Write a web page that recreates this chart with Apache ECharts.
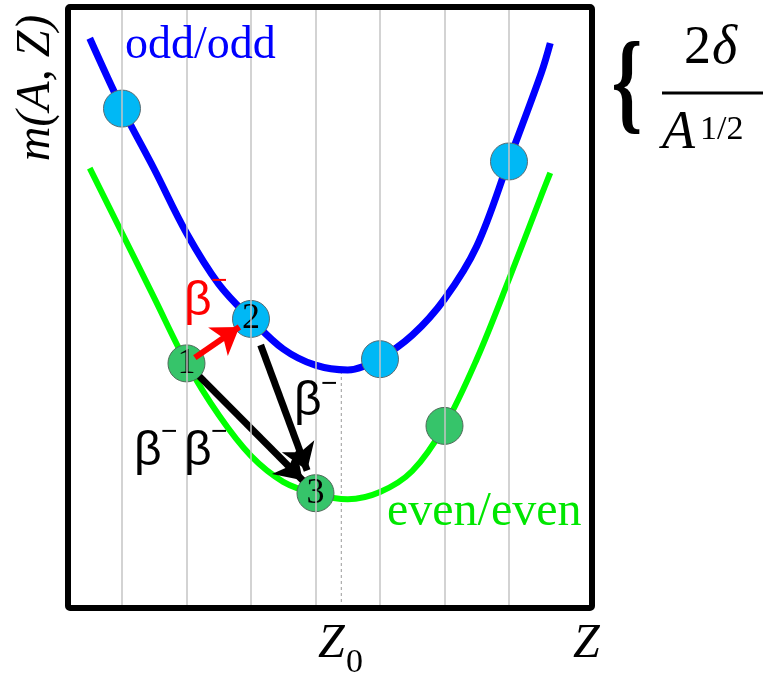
<!DOCTYPE html>
<html>
<head>
<meta charset="utf-8">
<script src="https://cdn.jsdelivr.net/npm/echarts@6/dist/echarts.min.js"></script>
<style>
  html, body { margin: 0; padding: 0; background: #fff; }
  #massChart { width: 765px; height: 677px; }
</style>
</head>
<body>
<div id="massChart"></div>
<script>
// curve samples (Z, mass in arbitrary units)
const curveZ = [0.5, 1, 1.5, 2, 2.5, 3, 3.5, 4, 4.5, 5, 5.5, 6, 6.5, 7, 7.5, 7.64];
const oddCurveM = [94.8, 83.2, 73.0, 62.4, 53.9, 48.1, 43.1, 40.4, 39.6, 41.6, 45.4, 51.4, 60.2, 74.5, 89.0, 94.0];
const evenCurveM = [73.2, 62.4, 51.6, 40.8, 32.1, 25.3, 21.0, 19.0, 18.1, 19.3, 22.8, 30.3, 41.4, 54.7, 68.6, 72.4];

// nuclides sitting on the curves
const oddZ = [1, 3, 5, 7];
const oddM = [83.1, 48.1, 41.4, 74.3];
const oddTags = ["", "2", "", ""];
const evenZ = [2, 4, 6];
const evenM = [40.7, 19.1, 30.3];
const evenTags = ["1", "3", ""];

const gridZ = [1, 2, 3, 4, 5, 6, 7];
const z0 = 4.4;
const z0Mass = 39.6;

const n1 = [evenZ[0], evenM[0]];
const n2 = [oddZ[1], oddM[1]];
const n3 = [evenZ[1], evenM[1]];
// from, to, start fraction, end fraction, colour, width
const decays = [
    [n1, n2, 0.13, 0.82, "#ff0000", 6],
    [n1, n3, 0.1, 0.9, "#000000", 7],
    [n2, n3, 0.15, 0.87, "#000000", 7]
];

const zip = (xs, ys) => xs.map((x, i) => [x, ys[i]]);
const along = (a, b, t) => [a[0] + (b[0] - a[0]) * t, a[1] + (b[1] - a[1]) * t];

const serif = "Liberation Serif";
const sans = "Liberation Sans";

function txt(x, y, text, size, color, extra) {
    return {
        type: "text",
        x: x,
        y: y,
        z: 120,
        style: Object.assign({
            text: text,
            fontFamily: serif,
            fontSize: size,
            fill: color || "#000",
            verticalAlign: "middle",
            align: "left"
        }, extra || {})
    };
}

function nuclides(zs, ms, tags) {
    return zs.map((z, i) => ({
        value: [z, ms[i]],
        label: {
            show: tags[i] !== "",
            formatter: tags[i],
            position: "inside",
            fontFamily: serif,
            fontSize: 36,
            color: "#000"
        }
    }));
}

const chart = echarts.init(document.getElementById("massChart"));
chart.setOption({
    animation: false,
    grid: { left: 68, right: 173, top: 7, bottom: 69 },
    xAxis: { type: "value", min: 0.163, max: 8.287, show: false },
    yAxis: { type: "value", min: 0, max: 100, show: false },
    series: [
        {
            // vertical Z lines
            type: "line",
            data: [],
            silent: true,
            z: 1,
            markLine: {
                silent: true,
                symbol: "none",
                label: { show: false },
                lineStyle: { color: "#c4c4c4", width: 1.5, type: "solid" },
                data: gridZ.map(v => ({ xAxis: v }))
            }
        },
        {
            type: "line",
            data: [[z0, 0], [z0, z0Mass]],
            showSymbol: false,
            z: 1,
            lineStyle: { color: "#9a9a9a", width: 1, type: [3, 3] }
        },
        {
            name: "odd/odd",
            type: "line",
            data: zip(curveZ, oddCurveM),
            smooth: 0.35,
            showSymbol: false,
            z: 2,
            lineStyle: { color: "#0000ff", width: 7 }
        },
        {
            name: "even/even",
            type: "line",
            data: zip(curveZ, evenCurveM),
            smooth: 0.35,
            showSymbol: false,
            z: 2,
            lineStyle: { color: "#00ff00", width: 6 }
        },
        {
            type: "scatter",
            data: nuclides(oddZ, oddM, oddTags),
            symbolSize: 37,
            z: 3,
            itemStyle: { color: "#00b8f5", borderColor: "#5a6a70", borderWidth: 1, opacity: 1 }
        },
        {
            type: "scatter",
            data: nuclides(evenZ, evenM, evenTags),
            symbolSize: 37,
            z: 3,
            itemStyle: { color: "#36c46a", borderColor: "#4e6a58", borderWidth: 1, opacity: 1 }
        },
        {
            type: "lines",
            coordinateSystem: "cartesian2d",
            z: 4,
            symbol: ["none", "arrow"],
            symbolSize: [20, 26],
            data: decays.map(d => ({
                coords: [along(d[0], d[1], d[2]), along(d[0], d[1], d[3])],
                lineStyle: { color: d[4], width: d[5], opacity: 1 }
            }))
        }
    ],
    graphic: [
        {
            type: "rect",
            z: 110,
            shape: { x: 68, y: 7, width: 524, height: 601, r: 2 },
            style: { fill: null, stroke: "#000", lineWidth: 6 }
        },
        txt(125, 46, "odd/odd", 46, "#0000ff"),
        txt(387, 512, "even/even", 48, "#00e600"),
        // decay labels
        txt(184, 302, "β", 48, "#ff0000", { fontFamily: sans }),
        txt(211, 281, "−", 28, "#ff0000", { fontFamily: sans }),
        txt(294, 402, "β", 48, "#000", { fontFamily: sans }),
        txt(321, 384, "−", 28, "#000", { fontFamily: sans }),
        txt(134, 452, "β", 48, "#000", { fontFamily: sans }),
        txt(161, 432, "−", 28, "#000", { fontFamily: sans }),
        txt(184, 452, "β", 48, "#000", { fontFamily: sans }),
        txt(211, 432, "−", 28, "#000", { fontFamily: sans }),
        // axes
        {
            type: "text",
            x: 36,
            y: 88,
            rotation: Math.PI / 2,
            z: 120,
            style: {
                text: "m(A, Z)",
                fontFamily: serif,
                fontStyle: "italic",
                fontSize: 48,
                fill: "#000",
                align: "center",
                verticalAlign: "middle"
            }
        },
        txt(318, 644, "Z", 48, "#000", { fontStyle: "italic" }),
        txt(346, 663, "0", 34, "#000"),
        txt(573, 644, "Z", 48, "#000", { fontStyle: "italic" }),
        // pairing term
        {
            type: "text",
            x: 627,
            y: 90,
            scaleX: 0.7,
            z: 120,
            style: {
                text: "{",
                fontFamily: serif,
                fontWeight: "bold",
                fontSize: 112,
                fill: "#000",
                align: "center",
                verticalAlign: "middle"
            }
        },
        txt(684, 49, "2", 54, "#000"),
        txt(712, 49, "δ", 54, "#000", { fontStyle: "italic" }),
        {
            type: "line",
            z: 120,
            shape: { x1: 662, y1: 93, x2: 763, y2: 93 },
            style: { stroke: "#000", lineWidth: 3 }
        },
        txt(662, 134, "A", 54, "#000", { fontStyle: "italic" }),
        txt(700, 130, "1/2", 34, "#000")
    ]
});
</script>
</body>
</html>
